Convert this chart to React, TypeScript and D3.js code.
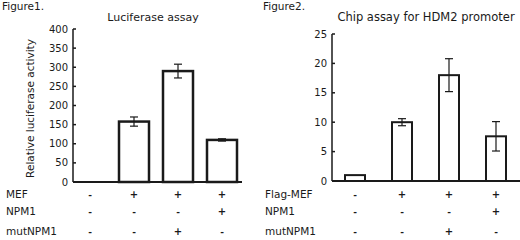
import React, { useEffect, useRef } from 'react';
import * as d3 from 'd3';

// Figure 1: luciferase assay
const lucValues = [0, 158, 290, 110];
const lucErrors = [0, 12, 18, 3];
const lucTicks = [0, 50, 100, 150, 200, 250, 300, 350, 400];
const lucRows = ['MEF', 'NPM1', 'mutNPM1'];
const lucSigns = [
    ['-', '+', '+', '+'],
    ['-', '-', '-', '+'],
    ['-', '-', '+', '-'],
];

// Figure 2: chip assay
const chipValues = [1, 10, 18, 7.6];
const chipErrors = [0, 0.6, 2.8, 2.5];
const chipTicks = [0, 5, 10, 15, 20, 25];
const chipRows = ['Flag-MEF', 'NPM1', 'mutNPM1'];
const chipSigns = [
    ['-', '+', '+', '+'],
    ['-', '-', '-', '+'],
    ['-', '-', '+', '-'],
];

const ink = '#1a1a1a';
const font = 'DejaVu Sans, sans-serif';

const drawPanel = (svg, opts) => {
    const { x0, bandStart, bandEnd, yTop, yZero, max, values, errors, ticks, rows, signs,
        title, titleX, figLabel, figX, barW, strokeW, yLabel } = opts;

    const g = svg.append('g');
    const y = d3.scaleLinear().domain([0, max]).range([yZero, yTop]);
    const x = d3.scaleBand().domain(d3.range(values.length)).range([bandStart, bandEnd]);

    g.append('text').attr('x', figX).attr('y', 10).attr('font-size', 10.5)
        .attr('font-family', font).attr('fill', ink).text(figLabel);
    g.append('text').attr('x', titleX).attr('y', 21).attr('font-size', opts.titleSize)
        .attr('text-anchor', 'middle').attr('font-family', font).attr('fill', ink).text(title);

    // y axis
    g.append('line').attr('x1', x0).attr('x2', x0).attr('y1', y(max)).attr('y2', yZero)
        .attr('stroke', ink).attr('stroke-width', 1.5);
    g.selectAll('.tk').data(ticks).enter().append('line')
        .attr('x1', x0).attr('x2', x0 + 3).attr('y1', d => y(d)).attr('y2', d => y(d))
        .attr('stroke', ink).attr('stroke-width', 1.5);
    g.selectAll('.tl').data(ticks).enter().append('text')
        .attr('x', x0 - 5).attr('y', d => y(d) + 3.5).attr('text-anchor', 'end')
        .attr('font-size', 10).attr('font-family', font).attr('fill', ink).text(d => d);

    if (yLabel) {
        g.append('text')
            .attr('transform', `translate(34,${(yTop + yZero) / 2 + 3}) rotate(-90)`)
            .attr('text-anchor', 'middle').attr('font-size', 10.5)
            .attr('font-family', font).attr('fill', ink).text(yLabel);
    }

    // bars
    values.forEach((v, i) => {
        const cx = x(i) + x.bandwidth() / 2;
        g.append('rect').attr('x', cx - barW / 2).attr('y', y(v))
            .attr('width', barW).attr('height', Math.max(0, yZero - y(v)))
            .attr('fill', 'white').attr('stroke', ink).attr('stroke-width', strokeW);
        if (errors[i] > 0) {
            const e = errors[i];
            g.append('line').attr('x1', cx).attr('x2', cx).attr('y1', y(v + e)).attr('y2', y(v - e))
                .attr('stroke', ink).attr('stroke-width', 1.2);
            [v + e, v - e].forEach(t => {
                g.append('line').attr('x1', cx - 4).attr('x2', cx + 4).attr('y1', y(t)).attr('y2', y(t))
                    .attr('stroke', ink).attr('stroke-width', 1.2);
            });
        }
    });

    // x axis
    g.append('line').attr('x1', x0).attr('x2', opts.axisEnd).attr('y1', yZero).attr('y2', yZero)
        .attr('stroke', ink).attr('stroke-width', 2);

    // condition table
    const rowY = [198, 215, 235];
    rows.forEach((r, ri) => {
        g.append('text').attr('x', opts.rowX).attr('y', rowY[ri]).attr('font-size', 10.5)
            .attr('font-family', font).attr('fill', ink).text(r);
        signs[ri].forEach((s, i) => {
            g.append('text').attr('x', x(i) + x.bandwidth() / 2).attr('y', rowY[ri])
                .attr('text-anchor', 'middle').attr('font-size', s === '+' ? 10 : 9)
                .attr('font-weight', 'bold')
                .attr('font-family', font).attr('fill', ink).text(s);
        });
    });
};

const App = () => {
    const ref = useRef(null);

    useEffect(() => {
        const svg = d3.select(ref.current);
        svg.selectAll('*').remove();

        drawPanel(svg, {
            x0: 73, bandStart: 68, bandEnd: 244, axisEnd: 242, yTop: 29, yZero: 182, max: 400,
            values: lucValues, errors: lucErrors, ticks: lucTicks,
            rows: lucRows, signs: lucSigns, title: 'Luciferase assay', titleX: 153, titleSize: 11,
            figLabel: 'Figure1.', figX: 2, barW: 30, strokeW: 2.5,
            yLabel: 'Relative luciferase activity', rowX: 6,
        });
        drawPanel(svg, {
            x0: 332, bandStart: 331.5, bandEnd: 519.5, axisEnd: 520, yTop: 34, yZero: 181, max: 25,
            values: chipValues, errors: chipErrors, ticks: chipTicks,
            rows: chipRows, signs: chipSigns, title: 'Chip assay for HDM2 promoter', titleX: 426, titleSize: 11.5,
            figLabel: 'Figure2.', figX: 263, barW: 20, strokeW: 2,
            yLabel: null, rowX: 265,
        });
    }, []);

    return (
        <svg ref={ref} width={520} height={240}
            style={{ position: 'absolute', left: 0, top: 0, background: 'white' }} />
    );
};

export default App;
